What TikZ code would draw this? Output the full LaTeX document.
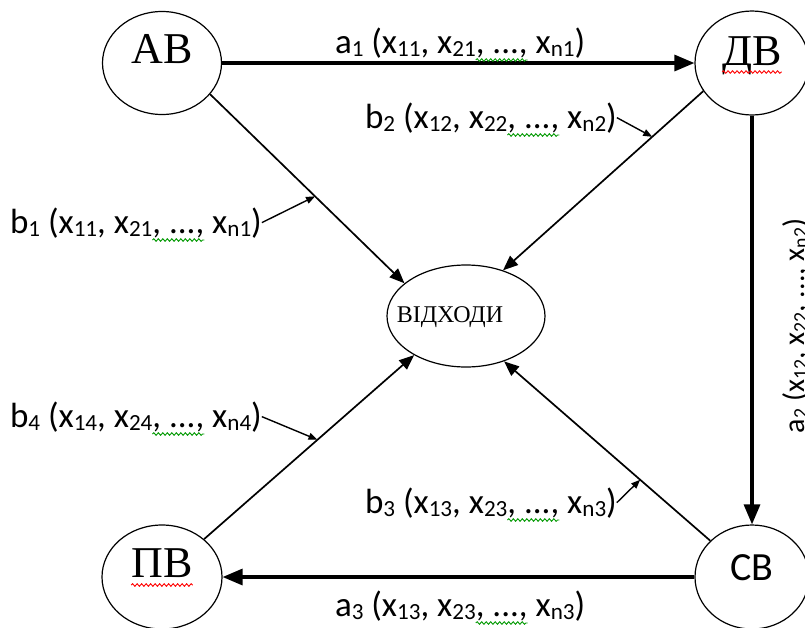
\documentclass[tikz,border=0pt]{standalone}
\usepackage{fontspec}
\setmainfont{Liberation Serif}
\newfontfamily\calib{Carlito}
\usetikzlibrary{shapes.geometric,arrows.meta,decorations.pathmorphing}
\makeatletter
\newcommand\sbx[1]{\raisebox{-0.1em}{\fontsize{\fpeval{0.66*\f@size}}{1}\selectfont #1}}
\makeatother
\newcommand\labfont{\calib\fontsize{35}{40}\selectfont}
\newlength\preA
\newlength\preB
\newlength\waveL
\begin{document}
\settowidth{\preA}{\labfont a\sbx{1} (x\sbx{11}, x\sbx{21}}
\settowidth{\preB}{\labfont b\sbx{1} (x\sbx{11}, x\sbx{21}}
\settowidth{\waveL}{\labfont , ...,}
\begin{tikzpicture}[x=1pt,y=-1pt,
  circ/.style={ellipse, draw, line width=1.2pt, inner sep=0pt},
  ttl/.style={anchor=base, inner sep=0pt, font=\fontsize{44}{50}\selectfont},
  lab/.style={anchor=base west, inner sep=0pt, outer sep=0pt, font=\labfont},
  bigarrow/.style={line width=3.2pt, -{Triangle[length=20pt,width=16pt]}},
  thinarrow/.style={line width=1.7pt, -{Triangle[length=15pt,width=12pt]}},
  tinyarrow/.style={line width=1.4pt, -{Triangle[length=9pt,width=7pt]}},
  wave/.style={line width=0.9pt, decorate, decoration={snake, amplitude=1.3pt, segment length=4.5pt}},
  gwave/.style={wave, green!60!black},
  rwave/.style={wave, red}]
\useasboundingbox (0,0) rectangle (805,627);
\clip (0,0) rectangle (805,627);
\fill[white] (0,0) rectangle (805,627);
% vertices
\node[circ, minimum width=119, minimum height=103] (AB) at (162,63) {};
\node[circ, minimum width=114, minimum height=104] (DV) at (752,63) {};
\node[circ, minimum width=120, minimum height=104] (PV) at (162,577) {};
\node[circ, minimum width=114, minimum height=104] (CV) at (752,577) {};
\node[circ, minimum width=158, minimum height=102] (OT) at (466,316) {};
% vertex texts
\node[ttl] (ABt) at (162,63) {АВ};
\node[ttl] (DVt) at (752,65) {ДВ};
\node[ttl] (PVt) at (162,577) {ПВ};
\node[ttl, font=\calib\fontsize{40}{48}\selectfont] (CVt) at (752,580) {СВ};
\node[ttl, font=\fontsize{24}{30}\selectfont] (OTt) at (450,322) {ВІДХОДИ};
\draw[rwave] ([yshift=-7pt]DVt.base west) -- ([yshift=-7pt]DVt.base east);
\draw[rwave] ([yshift=-8pt]PVt.base west) -- ([yshift=-8pt]PVt.base east);
% main flows
\draw[bigarrow] (AB) -- (DV);
\draw[bigarrow] (DV) -- (CV);
\draw[bigarrow] (CV) -- (PV);
\draw[thinarrow] (AB.-33) -- (OT.152) coordinate[pos=0.54] (q1);
\draw[thinarrow] (DV.210) -- (OT.51) coordinate[pos=0.255] (q2);
\draw[thinarrow] (PV.42) -- (OT.217) coordinate[pos=0.54] (q4);
\draw[thinarrow] (CV.139) -- (OT.-50) coordinate[pos=0.34] (q3);
% labels
\node[lab] (a1) at (335,53) {a\sbx{1} (x\sbx{11}, x\sbx{21}, ..., x\sbx{n1})};
\node[lab] (b2) at (365,128) {b\sbx{2} (x\sbx{12}, x\sbx{22}, ..., x\sbx{n2})};
\node[lab] (b1) at (10,233) {b\sbx{1} (x\sbx{11}, x\sbx{21}, ..., x\sbx{n1})};
\node[lab] (b4) at (10,427) {b\sbx{4} (x\sbx{14}, x\sbx{24}, ..., x\sbx{n4})};
\node[lab] (b3) at (365,513) {b\sbx{3} (x\sbx{13}, x\sbx{23}, ..., x\sbx{n3})};
\node[lab] (a3) at (335,616) {a\sbx{3} (x\sbx{13}, x\sbx{23}, ..., x\sbx{n3})};
\node[lab, rotate=90, font=\calib\fontsize{30}{34}\selectfont] (a2) at (804,433) {a\sbx{2} (x\sbx{12}, x\sbx{22}, ..., x\sbx{n2})};
% spell-check squiggles
\foreach \n/\p in {a1/\preA, a3/\preA, b1/\preB, b2/\preB, b3/\preB, b4/\preB}
  \draw[gwave] ([xshift=\p, yshift=-7pt]\n.base west) -- ++(\waveL,0);
% label pointers
\draw[tinyarrow] (b1.east) -- (q1);
\draw[tinyarrow] (b2.east) -- (q2);
\draw[tinyarrow] (b4.east) -- (q4);
\draw[tinyarrow] (b3.east) -- (q3);
\end{tikzpicture}
\end{document}
